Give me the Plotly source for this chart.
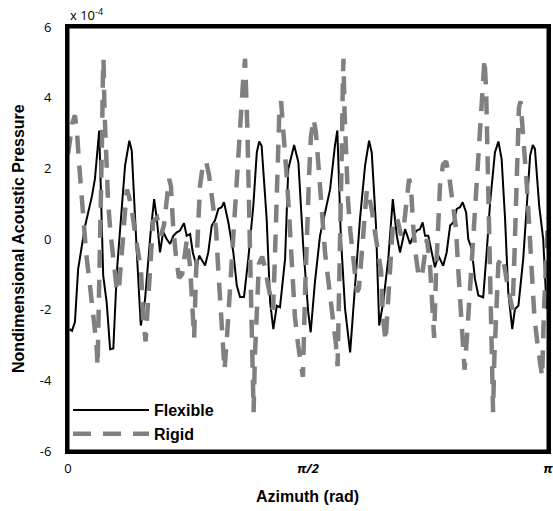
import numpy as np
import plotly.graph_objects as go

# Azimuth values stored in degrees, converted to radians for plotting
flex_az_deg = [0.6, 1.5, 2.6, 3.8, 6.4, 9.0, 10.1, 11.7, 13.2, 14.5, 15.8, 17.0, 18.3, 20.1, 21.4, 23.0, 23.9,
               25.8, 27.3, 28.9, 30.1, 31.0, 32.3, 33.3, 34.5, 35.7, 37.0, 38.3, 39.5, 40.8, 42.0, 43.5, 44.5,
               45.8, 46.8, 48.3, 49.2, 50.1, 51.4, 52.6, 53.9, 55.1, 56.4, 57.6, 58.5, 60.1, 62.0, 63.3, 64.5,
               66.0, 67.6, 69.5, 70.8, 71.7, 72.6, 74.5, 75.8, 77.0, 78.3, 79.5, 81.4, 82.6, 84.8, 86.4, 88.2,
               90.1, 91.0, 92.6, 94.5, 96.4, 98.3, 100.1, 101.0, 102.3, 103.9, 105.8, 107.6, 109.5, 111.4,
               112.9, 113.9, 115.5, 116.7, 118.2, 120.1, 121.8, 123.3, 124.5, 126.4, 128.3, 129.5, 130.8,
               132.0, 133.0, 133.9, 135.1, 136.4, 137.6, 138.9, 140.7, 142.0, 143.3, 144.5, 145.8, 147.0,
               148.0, 149.3, 150.1, 151.4, 152.6, 153.9, 155.7, 157.0, 158.3, 160.1, 161.4, 162.6, 163.9,
               165.1, 166.6, 167.6, 168.9, 170.7, 172.0, 173.3, 174.3, 175.1, 176.7, 178.2, 179.5]
flex_p = [-2.55, -2.6, -2.35, -0.85, 0.37, 1.22, 1.7, 3.07, -1.04, -1.79, -3.12, -3.1, -0.94, 0.94, 2.08, 2.78, 2.5,
          -0.37, -2.45, -1.7, -0.57, 0.2, 1.13, 0.57, -0.38, 0.2, 0.0, -0.14, 0.09, 0.19, 0.24, 0.45, 0.09,
          0.14, -0.38, -0.8, -0.47, -0.57, -0.75, -0.38, 0.38, 0.52, 0.85, 0.9, 1.04, 0.48, -0.38, -1.32, -1.64,
          -1.64, -0.57, 0.94, 2.45, 2.76, 2.64, 0.57, -1.79, -2.55, -1.89, -1.93, -0.57, 1.98, 2.66, 2.17, -0.19,
          -2.08, -2.64, -1.22, 0.09, 0.75, 1.41, 2.64, 3.07, 0.09, -1.98, -3.21, -1.32, 0.57, 2.08,
          2.78, 2.45, 0.38, -2.45, -1.79, -0.57, 1.13, 0.09, -0.38, 0.28, -0.14, 0.09, 0.24,
          0.28, 0.47, 0.09, 0.09, -0.38, -0.8, -0.47, -0.76, -0.38, 0.38, 0.47, 0.85, 0.9,
          1.04, 0.75, 0.0, -0.28, -1.13, -1.6, -1.65, -0.38, 1.04, 2.45, 2.76, 2.27, 0.57,
          -1.51, -2.55, -1.98, -1.89, -0.57, 1.04, 2.36, 2.66, 2.55, 0.94, 0.0, -1.98]

rigid_az_deg = [0.0, 0.8, 1.7, 2.6, 3.4, 4.1, 4.9, 5.6, 6.8, 7.9, 9.0, 10.1, 10.7, 11.1, 11.6, 12.0, 12.4, 12.8,
                13.1, 13.3, 13.7, 14.3, 15.0, 15.9, 16.9, 17.6, 18.4, 19.1, 19.9, 20.6, 21.4, 22.1, 22.9, 24.0,
                25.1, 26.3, 27.4, 28.1, 29.1, 30.0, 30.8, 31.9, 33.4, 34.9, 36.0, 37.1, 37.9, 38.6, 39.4, 40.5,
                41.6, 42.8, 43.5, 44.6, 45.8, 46.5, 47.3, 48.0, 48.8, 49.5, 50.6, 51.8, 52.9, 54.4, 55.5, 56.3,
                57.0, 57.8, 58.7, 59.6, 60.4, 61.1, 61.9, 62.6, 63.4, 64.1, 64.9, 65.6, 66.4, 66.9, 67.3, 67.7,
                68.1, 68.4, 68.8, 69.2, 69.6, 70.1, 70.9, 71.6, 72.8, 73.9, 75.0, 76.1, 76.9, 77.6, 78.2, 78.8,
                79.3, 79.9, 80.6, 81.4, 82.1, 82.9, 83.6, 84.4, 85.1, 86.3, 87.4, 88.1,
                88.9, 89.6, 90.4, 91.1, 92.1, 93.0, 93.8, 94.5, 95.3, 96.4, 97.5, 98.6, 99.8, 100.5, 101.1,
                101.6, 102.0, 102.4, 102.8, 103.1, 103.3, 103.7, 104.3, 105.0, 105.9, 106.9, 107.6, 108.4,
                109.1, 109.9, 110.6, 111.4, 112.1, 112.9, 114.0, 115.1, 116.3, 117.4, 118.1, 119.1, 120.0,
                120.8, 121.9, 123.4, 124.9, 126.0, 127.1, 127.9, 128.6, 129.4, 130.5, 131.6, 132.8, 133.5,
                134.6, 135.8, 136.5, 137.3, 138.0, 138.8, 139.5, 140.6, 141.8, 142.9, 144.4, 145.5, 146.3,
                147.0, 147.8, 148.7, 149.6, 150.4, 151.1, 151.9, 152.6, 153.4, 154.1, 154.9, 155.6, 156.2,
                156.8, 157.1, 157.5, 157.9, 158.3, 158.6, 159.0, 159.4, 159.9, 160.7, 161.4, 162.6, 163.7,
                164.8, 165.9, 166.7, 167.4, 168.0, 168.6, 169.1, 169.7, 170.4, 171.2, 171.9, 172.7, 173.4,
                174.2, 174.9, 176.1, 177.0, 177.8, 178.5, 179.3, 180.0]
rigid_p = [2.4, 2.9, 3.3, 3.5, 3.0, 2.2, 1.4, 0.5, -0.4, -1.1, -1.8, -2.4, -3.0, -3.6, -2.0, -0.3, 1.2, 3.0,
           4.6, 5.1, 3.6, 2.3, 1.1, 0.2, -0.5, -1.1, -1.5, -1.4, -0.8, 0.0, 0.8, 1.4, 1.2, 0.8,
           0.2, -0.3, -0.9, -2.2, -2.9, -1.8, -0.6, 0.5, 0.6, 0.1, 0.4, 1.1, 1.7, 1.5, 0.4, -0.5,
           -1.1, -1.0, -0.6, 0.0, -0.8, -1.8, -2.8, -1.0, 0.8, 1.5, 2.1, 2.2, 1.8, 1.0, 0.3, -0.8,
           -1.6, -2.4, -3.7, -2.8, -1.8, -0.8, 0.2, 0.9, 1.8, 2.6, 3.5, 4.4, 5.1, 4.2, 3.0, 1.6,
           0.2, -1.2, -2.6, -3.8, -4.9, -3.3, -1.8, -0.7, -0.5, -0.8, -1.3, -1.8, -2.0, -0.5, 1.0, 2.5,
           3.7, 3.9, 3.3, 2.6, 1.7, 0.7, -0.4, -1.3, -2.2, -3.0, -3.6, -3.9,
           -1.5, 0.3, 1.8, 2.9, 3.4, 3.0, 2.2, 1.4, 0.5, -0.4, -1.1, -1.8, -2.4, -3.0, -3.6,
           -2.0, -0.3, 1.2, 3.0, 4.6, 5.1, 3.6, 2.3, 1.1, 0.2, -0.5, -1.1, -1.5,
           -1.4, -0.8, 0.0, 0.8, 1.4, 1.2, 0.8, 0.2, -0.3, -0.9, -2.2, -2.9, -1.8,
           -0.6, 0.5, 0.6, 0.1, 0.4, 1.1, 1.7, 1.5, 0.4, -0.5, -1.1, -1.0, -0.6,
           0.0, -0.8, -1.8, -2.8, -1.0, 0.8, 1.5, 2.1, 2.2, 1.8, 1.0, 0.3, -0.8,
           -1.6, -2.4, -3.7, -2.8, -1.8, -0.8, 0.2, 0.9, 1.8, 2.6, 3.5, 4.4, 5.1,
           4.2, 3.0, 1.6, 0.2, -1.2, -2.6, -3.8, -4.9, -3.3, -1.8, -0.7, -0.5, -0.8,
           -1.3, -1.8, -2.0, -0.5, 1.0, 2.5, 3.7, 3.9, 3.3, 2.6, 1.7, 0.7, -0.4,
           -1.3, -2.2, -3.0, -3.6, -3.9, -2.0, -0.2, 0.6]

x_tick_vals = [0, np.pi / 2, np.pi]
x_tick_text = ["0", "<b><i>π/2</i></b>", "<b><i>π</i></b>"]
y_tick_vals = [-6, -4, -2, 0, 2, 4, 6]
y_tick_text = ["-6", "-4", "-2", "0", "2", "4", "6"]
x_range = [0, np.pi]
y_range = [-6, 6]

font_fam = "Open Sans, Liberation Sans, sans-serif"
bold_fam = "Liberation Sans, Arial, sans-serif"

fig = go.Figure()
fig.add_trace(go.Scatter(x=np.deg2rad(flex_az_deg), y=flex_p, mode="lines", name="<b>Flexible</b>",
                         line=dict(color="black", width=2)))
fig.add_trace(go.Scatter(x=np.deg2rad(rigid_az_deg), y=rigid_p, mode="lines", name="<b>Rigid</b>",
                         line=dict(color="#808080", width=4.5, dash="18px,12px")))
# plot-area frame along the axis range bounds
fig.add_trace(go.Scatter(x=[x_range[0], x_range[1], x_range[1], x_range[0], x_range[0]],
                         y=[y_range[0], y_range[0], y_range[1], y_range[1], y_range[0]],
                         mode="lines", line=dict(color="black", width=3), showlegend=False,
                         hoverinfo="skip"))

fig.update_layout(
    width=553, height=511,
    margin=dict(l=68, r=5, t=27, b=60, autoexpand=False),
    plot_bgcolor="white", paper_bgcolor="white",
    font=dict(family=font_fam, color="black", size=13),
    showlegend=True,
    legend=dict(x=0.0, y=0.0, xanchor="left", yanchor="bottom", bgcolor="rgba(0,0,0,0)",
                font=dict(size=16, family=bold_fam), itemwidth=76, tracegroupgap=0),
    xaxis=dict(range=x_range, tickvals=x_tick_vals, ticktext=x_tick_text, showgrid=False, zeroline=False,
               showline=True, mirror=True, linecolor="black", linewidth=3, ticklabeloverflow="allow",
               ticks="outside", ticklen=3, tickcolor="rgba(0,0,0,0)", automargin=False,
               tickfont=dict(size=13)),
    yaxis=dict(range=y_range, tickvals=y_tick_vals, ticktext=y_tick_text, showgrid=False, zeroline=False,
               showline=True, mirror=True, linecolor="black", linewidth=3,
               ticks="outside", ticklen=11, tickcolor="rgba(0,0,0,0)", automargin=False,
               tickfont=dict(size=13)),
)
fig.add_annotation(x=0, y=1, xref="paper", yref="paper", xanchor="left", yanchor="bottom",
                   text="x 10<sup>-4</sup>", showarrow=False, font=dict(size=13), yshift=1)
fig.add_annotation(x=-0.104, y=0.5, xref="paper", yref="paper", xanchor="center", yanchor="middle",
                   text="<b>Nondimensional Acoustic Pressure</b>", textangle=-90, showarrow=False,
                   font=dict(size=16, family=bold_fam))
fig.add_annotation(x=0.498, y=-0.108, xref="paper", yref="paper", xanchor="center", yanchor="middle",
                   text="<b>Azimuth (rad)</b>", showarrow=False, font=dict(size=16, family=bold_fam))

fig.write_html("out.html", config={"displayModeBar": False},
               post_script="document.body.style.margin='0px';")
